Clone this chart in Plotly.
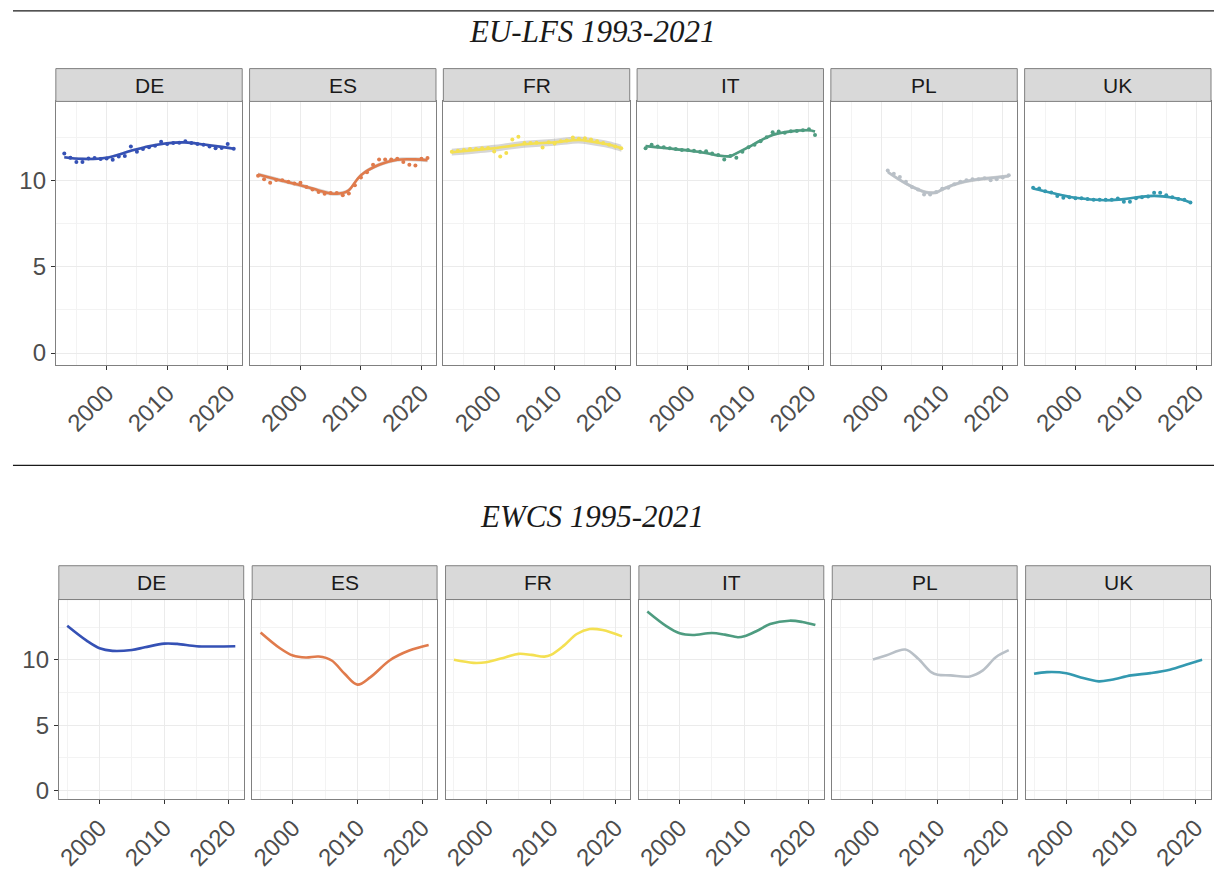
import plotly.graph_objects as go

countries = ["DE", "ES", "FR", "IT", "PL", "UK"]
colors = {"DE": "#3551B5", "ES": "#E07B4C", "FR": "#F4E052", "IT": "#4E9C80",
          "PL": "#B9C0C7", "UK": "#3399B0"}

# ---- EU-LFS 1993-2021: yearly points ----
lfs_years = {
    "DE": list(range(1993, 2022)),
    "ES": list(range(1993, 2022)),
    "FR": list(range(1993, 2022)),
    "IT": list(range(1993, 2022)),
    "PL": list(range(2001, 2022)),
    "UK": list(range(1993, 2020)),
}
lfs_de = [11.6, 11.35, 11.1, 11.1, 11.3, 11.33, 11.28, 11.3, 11.23, 11.42, 11.45, 12.0, 11.7, 11.85,
          11.95, 12.05, 12.27, 12.15, 12.2, 12.22, 12.3, 12.2, 12.15, 12.1, 12.0, 11.9, 11.92, 12.15, 11.87]
lfs_es = [10.3, 10.1, 9.9, 10.05, 10.04, 9.95, 9.85, 9.9, 9.65, 9.5, 9.35, 9.25, 9.3, 9.3,
          9.17, 9.27, 9.75, 10.2, 10.5, 10.94, 11.25, 11.25, 11.25, 11.29, 11.1, 10.94, 10.9, 11.29, 11.33]
lfs_fr = [11.7, 11.75, 11.8, 11.85, 11.85, 11.9, 11.92, 11.71, 11.42, 11.62, 12.4, 12.56, 12.2, 12.2,
          12.22, 11.94, 12.25, 12.17, 12.3, 12.35, 12.52, 12.45, 12.48, 12.4, 12.3, 12.2, 12.1, 12.0, 11.9]
lfs_it = [11.9, 12.1, 12.0, 11.95, 11.9, 11.85, 11.8, 11.8, 11.75, 11.7, 11.73, 11.6, 11.5, 11.25,
          11.45, 11.35, 11.7, 11.95, 12.1, 12.3, 12.54, 12.83, 12.87, 12.8, 12.88, 12.9, 12.95, 13.0, 12.67]
lfs_pl = [10.6, 10.42, 10.23, 9.95, 9.65, 9.5, 9.21, 9.21, 9.35, 9.55, 9.6, 9.8, 9.95, 10.04,
          10.1, 10.1, 10.15, 10.04, 10.1, 10.2, 10.33]
lfs_uk = [9.6, 9.56, 9.4, 9.33, 9.12, 9.02, 9.05, 9.0, 9.0, 8.95, 8.9, 8.9, 8.9, 8.9,
          8.98, 8.79, 8.79, 9.0, 9.05, 9.1, 9.31, 9.31, 9.17, 9.05, 8.95, 8.9, 8.75]
lfs_points = {"DE": lfs_de, "ES": lfs_es, "FR": lfs_fr, "IT": lfs_it, "PL": lfs_pl, "UK": lfs_uk}

# ---- EU-LFS smoothed (loess) curves ----
lfs_smooth_x = {
    "DE": [1993, 1996, 2000, 2004, 2007, 2010, 2013, 2016, 2019, 2021],
    "ES": [1993, 1996, 2000, 2003, 2005, 2007, 2008, 2010, 2013, 2016, 2019, 2021],
    "FR": [1993, 1997, 2000, 2005, 2010, 2014, 2016, 2019, 2021],
    "IT": [1993, 1997, 2000, 2003, 2005, 2007, 2008, 2010, 2012, 2014, 2017, 2020, 2021],
    "PL": [2001, 2004, 2007, 2008, 2009, 2010, 2012, 2014, 2016, 2018, 2021],
    "UK": [1993, 1996, 2000, 2005, 2008, 2010, 2013, 2016, 2018, 2019],
}
lfs_smooth_y = {
    "DE": [11.38, 11.28, 11.35, 11.75, 12.02, 12.19, 12.24, 12.12, 11.98, 11.87],
    "ES": [10.37, 10.1, 9.75, 9.45, 9.27, 9.3, 9.46, 10.33, 10.94, 11.23, 11.25, 11.2],
    "FR": [11.67, 11.8, 11.9, 12.13, 12.25, 12.38, 12.29, 12.1, 11.9],
    "IT": [12.02, 11.88, 11.77, 11.62, 11.48, 11.44, 11.6, 11.96, 12.35, 12.67, 12.88, 12.94, 12.87],
    "PL": [10.52, 9.85, 9.37, 9.31, 9.33, 9.5, 9.79, 9.98, 10.1, 10.17, 10.29],
    "UK": [9.56, 9.31, 9.02, 8.88, 8.94, 9.04, 9.13, 9.04, 8.88, 8.75],
}
lfs_se = {"DE": 0.08, "ES": 0.12, "FR": 0.2, "IT": 0.08, "PL": 0.1, "UK": 0.06}

# ---- EWCS 1995-2021 smoothed curves ----
ewcs_x = {
    "DE": [1995, 1998, 2000, 2002, 2005, 2007, 2010, 2012, 2015, 2018, 2021],
    "ES": [1995, 1998, 2000, 2002, 2004, 2006, 2008, 2010, 2012, 2015, 2018, 2021],
    "FR": [1995, 1998, 2000, 2003, 2005, 2007, 2009, 2010, 2012, 2014, 2016, 2018, 2021],
    "IT": [1995, 1998, 2000, 2002, 2005, 2007, 2009, 2010, 2012, 2014, 2017, 2019, 2021],
    "PL": [2000, 2002, 2005, 2007, 2009, 2010, 2012, 2015, 2017, 2019, 2021],
    "UK": [1995, 1997, 2000, 2002, 2005, 2007, 2010, 2013, 2016, 2019, 2021],
}
ewcs_y = {
    "DE": [12.61, 11.47, 10.89, 10.69, 10.76, 10.96, 11.24, 11.22, 11.04, 11.02, 11.04],
    "ES": [12.1, 10.89, 10.33, 10.18, 10.25, 9.95, 8.93, 8.1, 8.68, 9.97, 10.71, 11.14],
    "FR": [10.0, 9.77, 9.82, 10.2, 10.46, 10.38, 10.25, 10.38, 11.09, 11.98, 12.36, 12.28, 11.8],
    "IT": [13.7, 12.56, 12.03, 11.9, 12.06, 11.93, 11.73, 11.8, 12.23, 12.74, 13.0, 12.9, 12.66],
    "PL": [10.03, 10.33, 10.79, 10.08, 9.06, 8.86, 8.81, 8.73, 9.19, 10.2, 10.74],
    "UK": [8.93, 9.06, 8.98, 8.68, 8.35, 8.48, 8.81, 8.98, 9.24, 9.7, 10.0],
}

y_ticks = [0, 5, 10]
x_ticks = [2000, 2010, 2020]

W, H = 1214, 871
FONT = "Liberation Sans, Arial, Helvetica, sans-serif"

fig = go.Figure()

rows = [
    dict(name="lfs", left=52, width=187, step=194.4, top=102, bottom=367,
         strip_top=69, xrange=[1991.6, 2022.4]),
    dict(name="ewcs", left=55, width=185.5, step=194.0, top=603, bottom=804,
         strip_top=569, xrange=[1993.7, 2022.3]),
]

shapes = []
annotations = []
layout_axes = {}
idx = 0
for r, row in enumerate(rows):
    for c, ctry in enumerate(countries):
        idx += 1
        sfx = "" if idx == 1 else str(idx)
        x0 = row["left"] + c * row["step"]
        x1 = x0 + row["width"]
        xd = [x0 / W, x1 / W]
        yd = [1 - row["bottom"] / H, 1 - row["top"] / H]
        xa = "x" + sfx
        ya = "y" + sfx
        layout_axes["xaxis" + sfx] = dict(
            domain=xd, anchor=ya, range=row["xrange"], tickvals=x_ticks,
            ticktext=[str(v) for v in x_ticks], tickangle=-45,
            ticks="outside", ticklen=4, tickcolor="#333333", tickwidth=1,
            tickfont=dict(family=FONT, size=24, color="#4D4D4D"),
            showgrid=True, gridcolor="#EBEBEB", gridwidth=1,
            minor=dict(tickvals=[1995, 2005, 2015], showgrid=True, gridcolor="#F3F3F3", gridwidth=0.6, ticks=""),
            showline=True, mirror=True, linecolor="#808080", linewidth=1,
            zeroline=False, fixedrange=True,
        )
        layout_axes["yaxis" + sfx] = dict(
            domain=yd, anchor=xa, range=[-0.69, 14.62], tickvals=y_ticks,
            ticktext=[str(v) for v in y_ticks],
            ticks="outside" if c == 0 else "", ticklen=4, tickcolor="#333333", tickwidth=1,
            showticklabels=(c == 0),
            tickfont=dict(family=FONT, size=24, color="#4D4D4D"),
            showgrid=True, gridcolor="#EBEBEB", gridwidth=1,
            minor=dict(tickvals=[2.5, 7.5, 12.5], showgrid=True, gridcolor="#F3F3F3", gridwidth=0.6, ticks=""),
            showline=True, mirror=True, linecolor="#808080", linewidth=1,
            zeroline=False, fixedrange=True,
        )
        col = colors[ctry]
        if row["name"] == "lfs":
            sx = lfs_smooth_x[ctry]
            sy = lfs_smooth_y[ctry]
            se = lfs_se[ctry]
            fig.add_trace(go.Scatter(x=sx, y=[v + se for v in sy], xaxis=xa, yaxis=ya,
                                     mode="lines", line=dict(width=0, shape="spline"),
                                     showlegend=False, hoverinfo="skip"))
            fig.add_trace(go.Scatter(x=sx, y=[v - se for v in sy], xaxis=xa, yaxis=ya,
                                     mode="lines", line=dict(width=0, shape="spline"),
                                     fill="tonexty", fillcolor="rgba(153,153,153,0.4)",
                                     showlegend=False, hoverinfo="skip"))
            fig.add_trace(go.Scatter(x=lfs_years[ctry], y=lfs_points[ctry], xaxis=xa, yaxis=ya,
                                     mode="markers", marker=dict(size=4, color=col),
                                     showlegend=False))
            fig.add_trace(go.Scatter(x=sx, y=sy, xaxis=xa, yaxis=ya, mode="lines",
                                     line=dict(color=col, width=2.6, shape="spline", smoothing=1.0),
                                     showlegend=False))
        else:
            fig.add_trace(go.Scatter(x=ewcs_x[ctry], y=ewcs_y[ctry], xaxis=xa, yaxis=ya, mode="lines",
                                     line=dict(color=col, width=2.6, shape="spline", smoothing=1.0),
                                     showlegend=False))
        # strip
        st, sb = row["strip_top"], row["top"]
        shapes.append(dict(type="rect", xref="paper", yref="paper",
                           x0=x0 / W, x1=x1 / W, y0=1 - sb / H, y1=1 - st / H,
                           fillcolor="#D9D9D9", line=dict(color="#808080", width=1), layer="above"))
        annotations.append(dict(text=ctry, xref="paper", yref="paper",
                                x=(x0 + x1) / 2 / W, y=1 - (st + sb) / 2 / H,
                                xanchor="center", yanchor="middle", showarrow=False,
                                font=dict(family=FONT, size=21, color="#1A1A1A")))

# separator lines
for yy in [11, 468]:
    shapes.append(dict(type="line", xref="paper", yref="paper", x0=9 / W, x1=1.0,
                       y0=1 - yy / H, y1=1 - yy / H, line=dict(color="#1A1A1A", width=1.3)))

titles = [("EU-LFS 1993-2021", 32), ("EWCS 1995-2021", 519)]
for t, yy in titles:
    annotations.append(dict(text="<i>" + t + "</i>", xref="paper", yref="paper",
                            x=590 / W, y=1 - yy / H, xanchor="center", yanchor="middle",
                            showarrow=False,
                            font=dict(family="Liberation Serif, Times New Roman, serif", size=31, color="#1A1A1A")))

fig.update_layout(width=W, height=H, autosize=False, margin=dict(l=0, r=0, t=0, b=0),
                  paper_bgcolor="white", plot_bgcolor="white", showlegend=False,
                  shapes=shapes, annotations=annotations, **layout_axes)

fig.write_html("out.html", config={"displayModeBar": False},
               post_script="document.body.style.margin='0';document.body.style.padding='0';"
                           "document.body.style.overflow='hidden';")
